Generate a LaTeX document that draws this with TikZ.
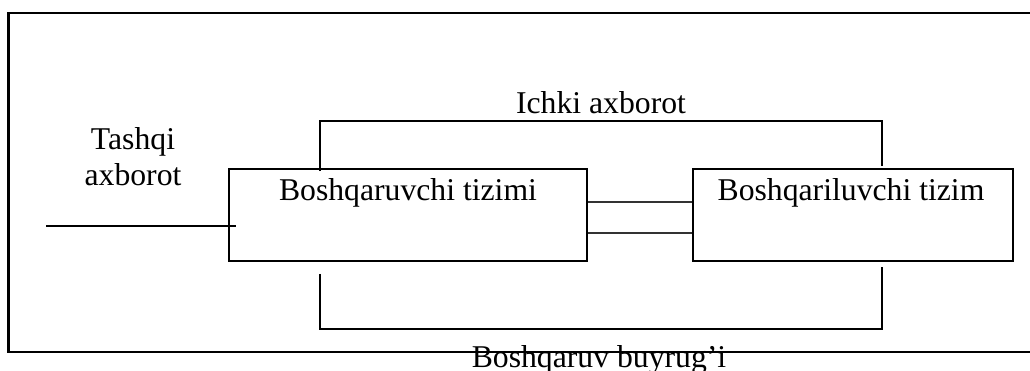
\documentclass[tikz,border=0pt]{standalone}
\usepackage{fontspec}
\setmainfont{Liberation Serif}
\usepackage{tikz}
\usetikzlibrary{positioning, calc}

\begin{document}
\begin{tikzpicture}[
        x=1pt, y=-1pt,
        sys_box/.style={
            draw, rectangle, line width=1.8pt, inner sep=0pt
        },
        box_text/.style={
            anchor=base, inner sep=0pt, font=\fontsize{31.7pt}{36pt}\selectfont
        },
        flow_line/.style={
            line width=1.9pt
        },
        link_line/.style={
            line width=1.3pt, black!80
        }
    ]

    \useasboundingbox (0,0) rectangle (1030,370);

    % Outer frame (runs off the right edge)
    \draw[line width=2.6pt] (1050,13) -- (8.5,13) -- (8.5,352) -- (1050,352);

    % The two systems
    \node[sys_box, minimum width=358pt, minimum height=92pt] (ctrl) at (408,215) {};
    \node[sys_box, minimum width=320pt, minimum height=92pt] (plant) at (853,215) {};
    \node[box_text] (ctrl_txt) at (408,200) {Boshqaruvchi tizimi};
    \node[box_text] (plant_txt) at (851,200) {Boshqariluvchi tizim};

    % Links between the boxes
    \draw[link_line] ([yshift=13pt]ctrl.east) -- ([yshift=13pt]ctrl.east -| plant.west);
    \draw[link_line] ([yshift=-18pt]ctrl.east) -- ([yshift=-18pt]ctrl.east -| plant.west);

    % Feedback over the top
    \draw[flow_line] ([xshift=92pt, yshift=-3pt]ctrl.north west) -- ++(0,-50)
        -| ([xshift=190pt, yshift=2pt]plant.north west);
    \node[box_text] (inner_txt) at (601,113) {Ichki axborot};

    % Command path underneath
    \draw[flow_line] ([xshift=92pt, yshift=-12pt]ctrl.south west) -- ++(0,55)
        -| ([xshift=190pt, yshift=-5pt]plant.south west);
    \node[box_text] (cmd_txt) at (599,367) {Boshqaruv buyrug’i};

    % Outside input
    \coordinate (ext) at (46,226);
    \draw[flow_line] (ext) -- ([xshift=8pt, yshift=-11pt]ctrl.west);
    \node[box_text, align=center] (ext_txt) at (133,185) {Tashqi\\axborot};

\end{tikzpicture}
\end{document}
